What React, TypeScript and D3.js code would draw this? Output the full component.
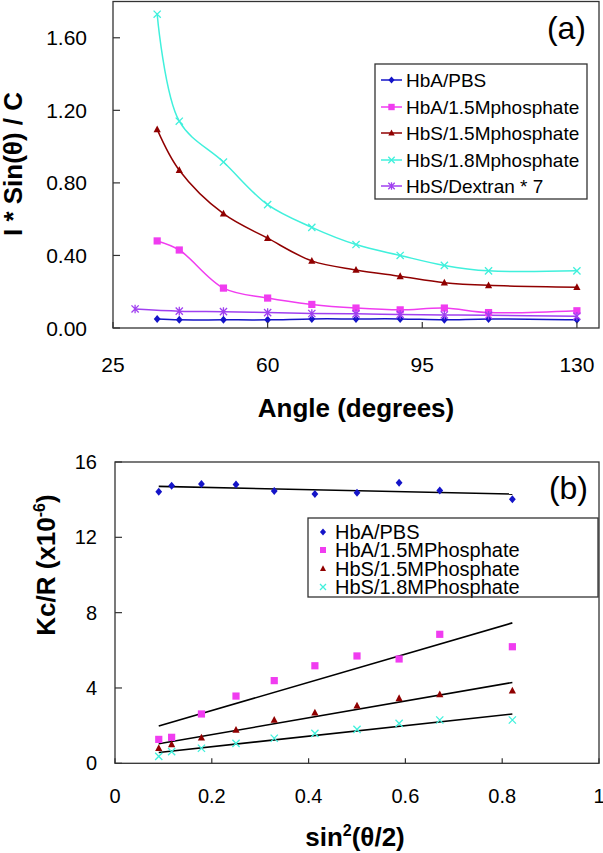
import React from 'react';
import * as d3 from 'd3';

const W = 603;
const H = 853;
const FONT = "'Liberation Sans', Arial, Helvetica, sans-serif";

// ---------- Panel (a) data ----------
const anglesA = [35, 40, 50, 60, 70, 80, 90, 100, 110, 130];
const anglesDextran = [30, 40, 50, 60, 70, 80, 90, 100, 110, 130];
const hbaPbsA = [0.05, 0.045, 0.045, 0.045, 0.05, 0.05, 0.05, 0.045, 0.05, 0.045];
const hba15A = [0.48, 0.43, 0.22, 0.165, 0.13, 0.11, 0.1, 0.11, 0.085, 0.095];
const hbs15A = [1.095, 0.87, 0.63, 0.495, 0.37, 0.32, 0.285, 0.25, 0.235, 0.225];
const hbs18A = [1.73, 1.14, 0.915, 0.68, 0.555, 0.46, 0.4, 0.345, 0.315, 0.315];
const dextranA = [0.105, 0.093, 0.09, 0.085, 0.08, 0.078, 0.075, 0.072, 0.07, 0.065];
const xTicksA = [25, 60, 95, 130];
const yTicksA = [0, 0.4, 0.8, 1.2, 1.6];

// ---------- Panel (b) data ----------
const sinB = [0.0904, 0.117, 0.1786, 0.25, 0.329, 0.413, 0.5, 0.587, 0.671, 0.821];
const hbaPbsB = [14.42, 14.74, 14.83, 14.81, 14.46, 14.3, 14.37, 14.9, 14.48, 14.02];
const hba15B = [1.27, 1.38, 2.62, 3.57, 4.39, 5.18, 5.7, 5.54, 6.85, 6.19];
const hbs15B = [0.8, 1.01, 1.36, 1.77, 2.3, 2.69, 3.06, 3.45, 3.66, 3.86];
const hbs18B = [0.37, 0.62, 0.8, 1.06, 1.33, 1.59, 1.8, 2.12, 2.3, 2.3];
const xTicksB = [0, 0.2, 0.4, 0.6, 0.8, 1];
const yTicksB = [0, 4, 8, 12, 16];

const C_BLUE = '#1414c8';
const C_MAG = '#f03cf0';
const C_RED = '#900000';
const C_CYAN = '#40f0dc';
const C_PURP = '#a040f0';

type Sym = 'diamond' | 'square' | 'triangle' | 'x' | 'asterisk';

const seriesA = [
  { name: 'HbA/PBS', xs: anglesA, ys: hbaPbsA, color: C_BLUE, sym: 'diamond' as Sym },
  { name: 'HbA/1.5Mphosphate', xs: anglesA, ys: hba15A, color: C_MAG, sym: 'square' as Sym },
  { name: 'HbS/1.5Mphosphate', xs: anglesA, ys: hbs15A, color: C_RED, sym: 'triangle' as Sym },
  { name: 'HbS/1.8Mphosphate', xs: anglesA, ys: hbs18A, color: C_CYAN, sym: 'x' as Sym },
  { name: 'HbS/Dextran * 7', xs: anglesDextran, ys: dextranA, color: C_PURP, sym: 'asterisk' as Sym },
];

const seriesB = [
  { name: 'HbA/PBS', xs: sinB, ys: hbaPbsB, color: C_BLUE, sym: 'diamond' as Sym },
  { name: 'HbA/1.5MPhosphate', xs: sinB, ys: hba15B, color: C_MAG, sym: 'square' as Sym },
  { name: 'HbS/1.5MPhosphate', xs: sinB, ys: hbs15B, color: C_RED, sym: 'triangle' as Sym },
  { name: 'HbS/1.8MPhosphate', xs: sinB, ys: hbs18B, color: C_CYAN, sym: 'x' as Sym },
];

// scales
const xA = d3.scaleLinear().domain([25, 135]).range([113, 599]);
const yA = d3.scaleLinear().domain([0, 1.8]).range([328, 1.5]);
const xB = d3.scaleLinear().domain([0, 1]).range([115, 599]);
const yB = d3.scaleLinear().domain([0, 16]).range([763.3, 462]);

function Marker({ sym, cx, cy, color, s }: { sym: Sym; cx: number; cy: number; color: string; s: number }) {
  if (sym === 'diamond') {
    return <path d={`M${cx},${cy - s}L${cx + s * 0.85},${cy}L${cx},${cy + s}L${cx - s * 0.85},${cy}Z`} fill={color} />;
  }
  if (sym === 'square') {
    return <rect x={cx - s} y={cy - s} width={2 * s} height={2 * s} fill={color} />;
  }
  if (sym === 'triangle') {
    return <path d={`M${cx},${cy - s * 1.1}L${cx + s},${cy + s * 0.8}L${cx - s},${cy + s * 0.8}Z`} fill={color} />;
  }
  if (sym === 'x') {
    return (
      <path
        d={`M${cx - s},${cy - s}L${cx + s},${cy + s}M${cx - s},${cy + s}L${cx + s},${cy - s}`}
        stroke={color}
        strokeWidth={1.3}
        fill="none"
      />
    );
  }
  return (
    <path
      d={`M${cx - s},${cy - s}L${cx + s},${cy + s}M${cx - s},${cy + s}L${cx + s},${cy - s}M${cx},${cy - s * 1.2}L${cx},${cy + s * 1.2}`}
      stroke={color}
      strokeWidth={1.3}
      fill="none"
    />
  );
}

function regression(xs: number[], ys: number[]) {
  const mx = d3.mean(xs) as number;
  const my = d3.mean(ys) as number;
  let sxy = 0;
  let sxx = 0;
  xs.forEach((x, i) => {
    sxy += (x - mx) * (ys[i] - my);
    sxx += (x - mx) * (x - mx);
  });
  const slope = sxy / sxx;
  return { slope, intercept: my - slope * mx };
}

export default function App() {
  const lineA = (xs: number[], ys: number[]) =>
    d3
      .line<number>()
      .x((_, i) => xA(xs[i]))
      .y((d) => yA(d))
      .curve(d3.curveCatmullRom.alpha(0.5))(ys) as string;

  const axisColor = '#333';
  const legARows = [80, 107, 133, 160, 186];
  const legBRows = [532, 550, 568.5, 587];

  return (
    <div style={{ position: 'absolute', left: 0, top: 0, width: W, height: H, background: '#fff' }}>
      <svg width={W} height={H} viewBox={`0 0 ${W} ${H}`} style={{ display: 'block', fontFamily: FONT }}>
        <rect x={0} y={0} width={W} height={H} fill="#fff" />

        {/* ================= Panel (a) ================= */}
        {/* series lines */}
        {seriesA.map((s) => (
          <path key={s.name} d={lineA(s.xs, s.ys)} fill="none" stroke={s.color} strokeWidth={1.5} />
        ))}
        {seriesA.map((s) =>
          s.ys.map((v, i) => (
            <Marker key={s.name + i} sym={s.sym} cx={xA(s.xs[i])} cy={yA(v)} color={s.color} s={s.sym === 'diamond' ? 4 : 3.6} />
          ))
        )}
        {/* frame */}
        <rect x={xA(25)} y={yA(1.8)} width={xA(135) - xA(25)} height={yA(0) - yA(1.8)} fill="none" stroke={axisColor} strokeWidth={1.3} />
        {/* ticks */}
        {xTicksA.map((t) => (
          <line key={'xa' + t} x1={xA(t)} x2={xA(t)} y1={yA(0)} y2={yA(0) - 6} stroke={axisColor} strokeWidth={1.2} />
        ))}
        {yTicksA.map((t) => (
          <line key={'ya' + t} x1={xA(25)} x2={xA(25) + 7} y1={yA(t)} y2={yA(t)} stroke={axisColor} strokeWidth={1.2} />
        ))}
        {/* tick labels */}
        {xTicksA.map((t) => (
          <text key={'xla' + t} x={xA(t)} y={372} fontSize={21} textAnchor="middle" fill="#000">
            {t}
          </text>
        ))}
        {yTicksA.map((t) => (
          <text key={'yla' + t} x={87} y={yA(t) + 7.5} fontSize={21} textAnchor="end" fill="#000">
            {d3.format('.2f')(t)}
          </text>
        ))}
        {/* titles */}
        <text x={356} y={417} fontSize={26} fontWeight="bold" textAnchor="middle">
          Angle (degrees)
        </text>
        <text transform="translate(22,164) rotate(-90)" fontSize={26} fontWeight="bold" textAnchor="middle">
          I * Sin(θ) / C
        </text>
        <text x={586} y={39} fontSize={32} textAnchor="end">
          (a)
        </text>
        {/* legend (a) */}
        <rect x={375} y={64} width={212} height={135} fill="#fff" stroke={axisColor} strokeWidth={1.3} />
        {seriesA.map((s, i) => (
          <g key={'lga' + i}>
            <line x1={381} x2={402} y1={legARows[i]} y2={legARows[i]} stroke={s.color} strokeWidth={1.5} />
            <Marker sym={s.sym} cx={391.5} cy={legARows[i]} color={s.color} s={s.sym === 'diamond' ? 3.6 : 3.2} />
            <text x={406} y={legARows[i] + 6.5} fontSize={19}>
              {s.name}
            </text>
          </g>
        ))}

        {/* ================= Panel (b) ================= */}
        {seriesB.map((s) => {
          const r = regression(s.xs, s.ys);
          const x0 = d3.min(s.xs) as number;
          const x1 = d3.max(s.xs) as number;
          return (
            <line
              key={'fit' + s.name}
              x1={xB(x0)}
              x2={xB(x1)}
              y1={yB(r.intercept + r.slope * x0)}
              y2={yB(r.intercept + r.slope * x1)}
              stroke="#000"
              strokeWidth={1.6}
            />
          );
        })}
        {seriesB.map((s) =>
          s.ys.map((v, i) => (
            <Marker key={'b' + s.name + i} sym={s.sym} cx={xB(s.xs[i])} cy={yB(v)} color={s.color} s={s.sym === 'diamond' ? 4 : 3.6} />
          ))
        )}
        <rect x={xB(0)} y={yB(16)} width={xB(1) - xB(0)} height={yB(0) - yB(16)} fill="none" stroke={axisColor} strokeWidth={1.3} />
        {xTicksB.map((t) => (
          <line key={'xb' + t} x1={xB(t)} x2={xB(t)} y1={yB(0)} y2={yB(0) - 5} stroke={axisColor} strokeWidth={1.2} />
        ))}
        {yTicksB.map((t) => (
          <line key={'yb' + t} x1={xB(0)} x2={xB(0) + 7} y1={yB(t)} y2={yB(t)} stroke={axisColor} strokeWidth={1.2} />
        ))}
        {xTicksB.map((t) => (
          <text key={'xlb' + t} x={xB(t)} y={803} fontSize={20} textAnchor="middle">
            {String(t)}
          </text>
        ))}
        {yTicksB.map((t) => (
          <text key={'ylb' + t} x={97} y={yB(t) + 7} fontSize={20} textAnchor="end">
            {String(t)}
          </text>
        ))}
        <text x={355} y={846} fontSize={26} fontWeight="bold" textAnchor="middle">
          sin
          <tspan fontSize={16} dy={-10}>
            2
          </tspan>
          <tspan dy={10}>(θ/2)</tspan>
        </text>
        <text transform="translate(55,565) rotate(-90)" fontSize={26} fontWeight="bold" textAnchor="middle">
          Kc/R (x10
          <tspan fontSize={16} dy={-10}>
            -6
          </tspan>
          <tspan dy={10}>)</tspan>
        </text>
        <text x={588} y={499} fontSize={32} textAnchor="end">
          (b)
        </text>
        {/* legend (b) */}
        <rect x={308} y={518} width={290} height={79} fill="#fff" />
        {seriesB.map((s, i) => (
          <g key={'lgb' + i}>
            <Marker sym={s.sym} cx={323} cy={legBRows[i]} color={s.color} s={s.sym === 'diamond' ? 3.6 : 3} />
            <text x={335} y={legBRows[i] + 7} fontSize={20}>
              {s.name}
            </text>
          </g>
        ))}
        <rect x={308} y={518} width={290} height={79} fill="none" stroke={axisColor} strokeWidth={1.3} />
      </svg>
    </div>
  );
}
